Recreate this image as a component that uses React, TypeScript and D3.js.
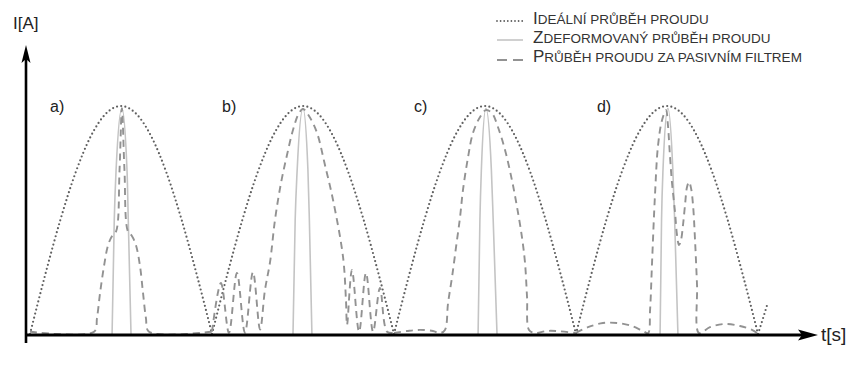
import React from "react";
import * as d3 from "d3";

// ---- data (time in half-periods, current normalised to the ideal peak) ----
const idealArch = [0, 0.259, 0.5, 0.707, 0.866, 0.966, 1, 0.966, 0.866, 0.707, 0.5, 0.259, 0];
const archStarts = [0, 1, 2, 3];
const idealTail: [number, number][] = [[4, 0], [4.03, 0.075], [4.055, 0.14]];

const distortedA: [number, number][] = [[0.451, 0], [0.463, 0.5], [0.473, 0.72], [0.505, 0.99], [0.533, 0.72], [0.54, 0.5], [0.555, 0]];
const distortedB: [number, number][] = [[1.445, 0], [1.457, 0.5], [1.468, 0.72], [1.5, 0.99], [1.527, 0.72], [1.535, 0.5], [1.549, 0]];
const distortedC: [number, number][] = [[2.462, 0], [2.472, 0.5], [2.48, 0.72], [2.505, 0.99], [2.535, 0.72], [2.545, 0.5], [2.566, 0]];
const distortedD: [number, number][] = [[3.462, 0], [3.47, 0.5], [3.478, 0.72], [3.505, 0.99], [3.532, 0.72], [3.542, 0.5], [3.56, 0]];

const filteredA: [number, number][] = [
  [0, 0.01], [0.352, 0.01], [0.368, 0.07], [0.385, 0.18], [0.407, 0.3], [0.429, 0.39], [0.451, 0.43], [0.473, 0.45],
  [0.492, 0.72], [0.505, 0.99], [0.519, 0.72], [0.538, 0.45], [0.56, 0.43], [0.582, 0.39], [0.604, 0.3],
  [0.621, 0.18], [0.637, 0.07], [0.654, 0.01], [1.0, 0.01],
];
const filteredB: [number, number][] = [
  [1.0, 0.01], [1.049, 0.224], [1.093, 0.005], [1.137, 0.268], [1.181, 0.005], [1.225, 0.272], [1.264, 0.02],
  [1.291, 0.193], [1.319, 0.316], [1.346, 0.5], [1.379, 0.662], [1.412, 0.785], [1.445, 0.895], [1.478, 0.969],
  [1.5, 0.987], [1.533, 0.956], [1.577, 0.882], [1.621, 0.74], [1.665, 0.588], [1.72, 0.338], [1.736, 0.15],
  [1.742, 0.04], [1.769, 0.281], [1.808, 0.01], [1.846, 0.268], [1.885, 0.01], [1.923, 0.202], [1.962, 0.01], [2.0, 0.005],
];
const filteredC: [number, number][] = [
  [2.0, 0.005], [2.071, 0.013], [2.143, 0.018], [2.214, 0.013], [2.253, 0.004], [2.28, 0.018], [2.297, 0.136],
  [2.319, 0.25], [2.341, 0.382], [2.363, 0.513], [2.379, 0.632], [2.407, 0.776], [2.434, 0.882], [2.473, 0.952],
  [2.505, 0.982], [2.538, 0.969], [2.571, 0.908], [2.61, 0.807], [2.648, 0.675], [2.676, 0.557], [2.703, 0.425],
  [2.72, 0.311], [2.731, 0.162], [2.742, 0.018], [2.775, 0.004], [2.835, 0.013], [2.896, 0.013], [3.0, 0.004],
];
const filteredD: [number, number][] = [
  [3.0, 0.005], [3.066, 0.03], [3.148, 0.048], [3.231, 0.048], [3.308, 0.035], [3.368, 0.013], [3.396, 0.004],
  [3.407, 0.105], [3.418, 0.316], [3.434, 0.61], [3.451, 0.829], [3.473, 0.939], [3.495, 0.982], [3.505, 0.917],
  [3.516, 0.785], [3.527, 0.667], [3.544, 0.535], [3.555, 0.434], [3.566, 0.39], [3.577, 0.412], [3.588, 0.478],
  [3.599, 0.566], [3.61, 0.645], [3.621, 0.667], [3.632, 0.64], [3.643, 0.566], [3.654, 0.412], [3.665, 0.215],
  [3.676, 0.004], [3.736, 0.03], [3.819, 0.044], [3.901, 0.035], [3.967, 0.018], [3.995, 0.004],
];

const panelLabels = ["a)", "b)", "c)", "d)"];
const panelLabelT = [0.11, 1.055, 2.11, 3.115];

const legendFirst = ["I", "Z", "P"];
const legendRest = ["deální průběh proudu", "deformovaný průběh proudu", "růběh proudu za pasivním filtrem"];

const yAxisLabel = "I[A]";
const xAxisLabel = "t[s]";

// ---- layout ----
const W = 853;
const H = 370;
const x = d3.scaleLinear().domain([0, 4]).range([30, 758]);
const y = d3.scaleLinear().domain([0, 1]).range([334, 106]);

const FONT = "'Liberation Sans', Arial, sans-serif";
const C_IDEAL = "#606060";
const C_DIST = "#c4c4c4";
const C_FILT = "#929292";

export default function App() {
  const smooth = d3.line<[number, number]>().x((d) => x(d[0])).y((d) => y(d[1])).curve(d3.curveMonotoneX);
  const cr = d3.line<[number, number]>().x((d) => x(d[0])).y((d) => y(d[1])).curve(d3.curveCatmullRom.alpha(0.5));

  const idealPaths = archStarts.map((s) =>
    smooth(idealArch.map((v, i) => [s + i / (idealArch.length - 1), v] as [number, number]))
  );
  idealPaths.push(smooth(idealTail));

  const distorted = [distortedA, distortedB, distortedC, distortedD];
  const filtered = [filteredA, filteredB, filteredC, filteredD];

  const axX0 = 26;
  const axY = 335;
  const arrowX = 818;
  const arrowY = 45;

  const legendRowsY = [24, 43, 62];
  const lx0 = 497;
  const lx1 = 523;
  const ltx = 533;

  return (
    <svg width={W} height={H} style={{ position: "absolute", left: 0, top: 0, background: "#fff" }}>
      {/* ideal */}
      {idealPaths.map((p, i) => (
        <path key={"i" + i} d={p || ""} fill="none" stroke={C_IDEAL} strokeWidth={2.2} strokeDasharray="0 4.2" strokeLinecap="round" />
      ))}
      {/* distorted */}
      {distorted.map((s, i) => (
        <path key={"d" + i} d={smooth(s) || ""} fill="none" stroke={C_DIST} strokeWidth={1.6} />
      ))}
      {/* filtered */}
      {filtered.map((s, i) => (
        <path key={"f" + i} d={cr(s) || ""} fill="none" stroke={C_FILT} strokeWidth={1.9} strokeDasharray="7 5" />
      ))}

      {/* axes */}
      <line x1={axX0} y1={343} x2={axX0} y2={arrowY + 12} stroke="#000" strokeWidth={2.6} />
      <path d={`M${axX0},${arrowY} L${axX0 - 4.5},${arrowY + 18} L${axX0},${arrowY + 14} L${axX0 + 4.5},${arrowY + 18} Z`} fill="#000" />
      <line x1={axX0} y1={axY} x2={arrowX - 12} y2={axY} stroke="#000" strokeWidth={3} />
      <path d={`M${arrowX},${axY} L${arrowX - 20},${axY - 5.5} L${arrowX - 16},${axY} L${arrowX - 20},${axY + 5.5} Z`} fill="#000" />

      <text x={13} y={29} fontFamily={FONT} fontSize={17} fill="#222">{yAxisLabel}</text>
      <text x={821} y={341} fontFamily={FONT} fontSize={19} fill="#222">{xAxisLabel}</text>

      {panelLabels.map((l, i) => (
        <text key={l} x={x(panelLabelT[i])} y={112} fontFamily={FONT} fontSize={16} fill="#222">{l}</text>
      ))}

      {/* legend */}
      <line x1={lx0} x2={lx1} y1={legendRowsY[0] - 3} y2={legendRowsY[0] - 3} stroke={C_IDEAL} strokeWidth={1.8} strokeDasharray="0 3.6" strokeLinecap="round" />
      <line x1={lx0} x2={lx1} y1={legendRowsY[1] - 3} y2={legendRowsY[1] - 3} stroke={C_DIST} strokeWidth={1.6} />
      <line x1={lx0} x2={lx1} y1={legendRowsY[2] - 2} y2={legendRowsY[2] - 2} stroke={C_FILT} strokeWidth={2} strokeDasharray="10 6" />
      {legendFirst.map((f, i) => (
        <text key={"l" + i} x={ltx} y={legendRowsY[i]} fontFamily={FONT} fill="#333">
          <tspan fontSize={17}>{f}</tspan>
          <tspan fontSize={13.5}>{legendRest[i].toUpperCase()}</tspan>
        </text>
      ))}
    </svg>
  );
}
